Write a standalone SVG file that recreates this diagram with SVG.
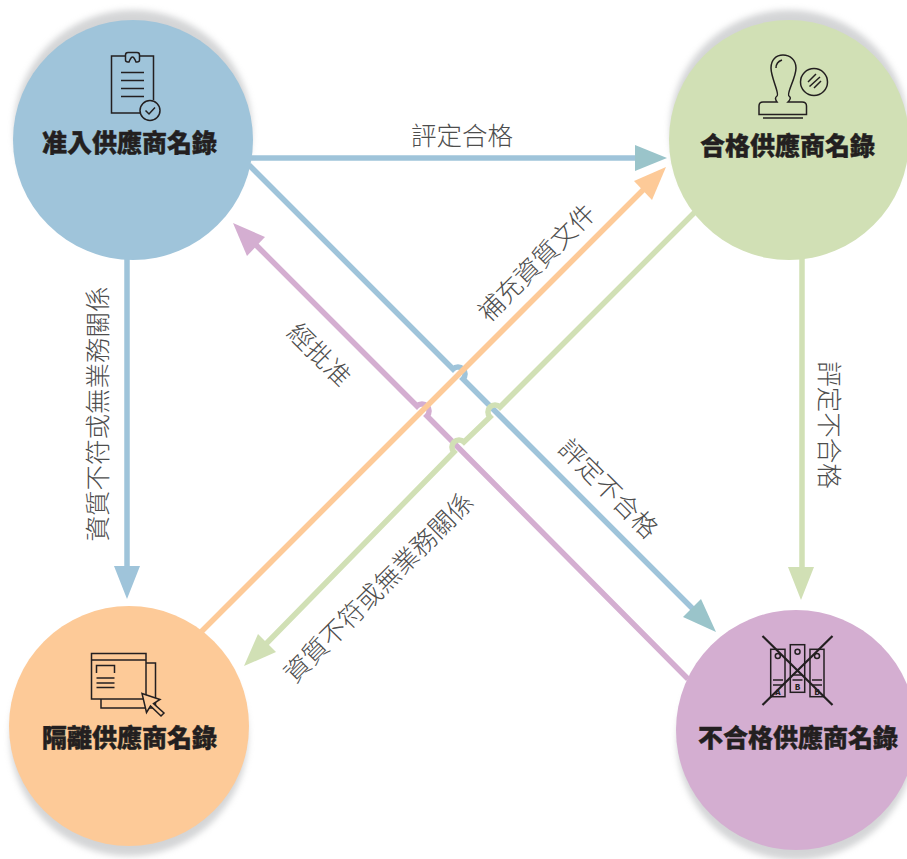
<svg xmlns="http://www.w3.org/2000/svg" width="907" height="859" viewBox="0 0 907 859">
<style>
text{font-family:"Noto Sans CJK TC","Noto Sans CJK SC",sans-serif;text-anchor:middle;dominant-baseline:central}
.t{font-size:25px;font-weight:900;fill:#231f20;stroke:#231f20;stroke-width:.4}
.l{font-size:25.500px;font-weight:300;fill:#4d4d4d}
.n{font-size:8px;font-weight:900;fill:#231f20}
.c{fill:none;stroke-width:5.500}
.i{fill:none;stroke:#231f20;stroke-width:1.500}
.s{fill:#a9abae;filter:url(#b);opacity:.5}
</style>
<defs><filter id="b" x="-10%" y="-10%" width="120%" height="120%"><feGaussianBlur stdDeviation="3"/></filter></defs>
<rect width="907" height="859" fill="#fff"/>
<g id="connectors">
<path class="c" stroke="#9fc4da" d="M250,158H638"/>
<polygon fill="#9ac4ca" points="667,158 635,145 635,171"/>
<path class="c" stroke="#9fc4da" d="M127,258V567"/>
<polygon fill="#9fc4da" points="127,599 114,566 140,566"/>
<path class="c" stroke="#d1e0b5" d="M802,258V570"/>
<polygon fill="#d1e0b5" points="801,600 788,567 814,567"/>
<path class="c" stroke="#9fc4da" d="M249,165L453,369A7,7 0 0 1 463,379L695,611"/>
<polygon fill="#9ac4ca" points="716,632 683,617 701,599"/>
<path class="c" stroke="#d4aed1" d="M688,679L427,416A7,7 0 0 0 417,406L252,241"/>
<polygon fill="#d4aed1" points="233,223 265,237 247,256"/>
<path class="c" stroke="#fdca98" d="M201,632L645,188"/>
<polygon fill="#fdca98" points="666,167 634,181 652,200"/>
<path class="c" stroke="#d1e0b5" d="M695,212L500,407A7,7 0 0 0 490,417L464,442A7,7 0 0 0 454,452L262,648"/>
<polygon fill="#d1e0b5" points="244,666 258,634 276,652"/>
</g>
<g id="node-approved-entry">
<circle class="s" cx="133" cy="129" r="119"/>
<circle cx="133" cy="140" r="120" fill="#9fc4da"/>
<path class="i" d="M125.500,56H111.500V113H140M153.500,100V56H139.500"/>
<path class="i" d="M125.500,60V55Q125.500,52.500 128,52.500H137Q139.500,52.500 139.500,55V60Q139.500,62 137,62H136Q134,57 132.500,57Q131,57 129,62H128Q125.500,62 125.500,60Z"/>
<path class="i" d="M121,72.500H144M121,80.500H144M121,88.500H144M121,96.500H144"/>
<circle class="i" cx="150" cy="110.500" r="10"/>
<path class="i" d="M145.500,110.500L149,114L155,107.500"/>
<text class="t" x="129.500" y="141">准入供應商名錄</text>
</g>
<g id="node-qualified">
<circle class="s" cx="789" cy="129" r="119"/>
<circle cx="789" cy="140" r="120" fill="#d1e0b5"/>
<path class="i" d="M777,102H763Q759,102 759,106V114.500H806.500V106Q806.500,102 802,102H788Q792,98 789,96C786,94 796,78 796,68C796,60 790,55 783,55C776,55 771,60 771,68C771,78 780,94 777,96Q774,98 777,102Z"/>
<path class="i" d="M776,68Q776,62 782,60M763,118H803"/>
<circle class="i" cx="814" cy="82" r="13.500"/>
<path class="i" d="M808,82L816,74M809.500,86.500L820,77M814,88L821,81"/>
<text class="t" x="787.500" y="144">合格供應商名錄</text>
</g>
<g id="node-quarantine">
<circle class="s" cx="129" cy="737" r="119"/>
<circle cx="129" cy="726" r="120" fill="#fdca98"/>
<path class="i" d="M146,663H155.500V708H101V699"/>
<rect class="i" x="91.500" y="653.500" width="54.500" height="45.500"/>
<path class="i" d="M91.500,660H146M96.500,673V665.500H114.500V673M96.500,678H114.500M96.500,683H114.500M96.500,687.500H114.500"/>
<path class="i" style="fill:#fdca98" d="M142,693.500L160,699.500L153.500,703.500L164,713L161,716L150.500,706L146.500,712.500Z"/>
<text class="t" x="129.500" y="736">隔離供應商名錄</text>
</g>
<g id="node-unqualified">
<circle class="s" cx="796" cy="741" r="119"/>
<circle cx="796" cy="730" r="120" fill="#d4aed1"/>
<rect class="i" x="770.700" y="649.300" width="14.300" height="47.400"/>
<rect class="i" x="790.300" y="644.700" width="14.400" height="47.600"/>
<rect class="i" x="810" y="649.300" width="14" height="47.400"/>
<circle class="i" cx="777.800" cy="656" r="2.500"/>
<circle class="i" cx="797.500" cy="651.700" r="2.500"/>
<circle class="i" cx="817" cy="656" r="2.500"/>
<path class="i" d="M773,680H783M773,685H783M792.500,675H802.500M792.500,680H802.500M812,680H822M812,685H822"/>
<text class="n" x="778" y="691">A</text>
<text class="n" x="797.500" y="686">B</text>
<text class="n" x="817" y="691">B</text>
<path d="M762.500,636L832.500,705M832.500,636L762.500,705" fill="none" stroke="#231f20" stroke-width="2.200"/>
<text class="t" x="798" y="736">不合格供應商名錄</text>
</g>
<g id="labels">
<text class="l" x="462" y="133">評定合格</text>
<text class="l" transform="translate(95 414) rotate(-90)">資質不符或無業務關係</text>
<text class="l" transform="translate(831 425) rotate(90)">評定不合格</text>
<text class="l" transform="translate(610 487) rotate(45)">評定不合格</text>
<text class="l" transform="translate(377 586) rotate(-45)">資質不符或無業務關係</text>
<text class="l" transform="translate(535 261) rotate(-45)">補充資質文件</text>
<text class="l" transform="translate(321 353) rotate(45)">經批准</text>
</g>
</svg>
